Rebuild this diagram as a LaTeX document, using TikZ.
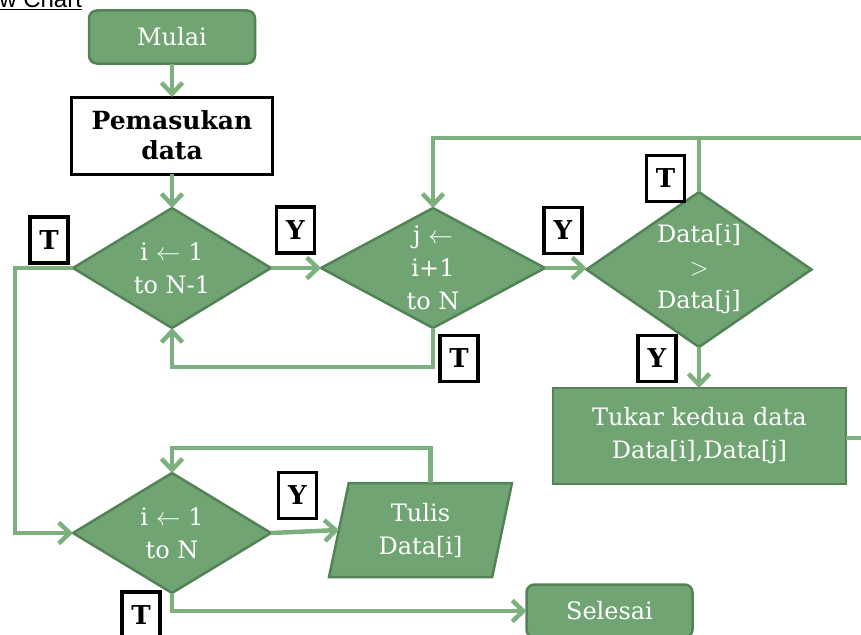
\documentclass[tikz,border=0pt]{standalone}
\usepackage{fontspec}
\setmainfont{DejaVu Serif}
\newfontfamily\titlefont{Liberation Sans}
\usetikzlibrary{shapes.geometric,arrows.meta}
\definecolor{boxfill}{RGB}{112,165,115}
\definecolor{boxline}{RGB}{82,130,86}
\definecolor{conncol}{RGB}{124,176,127}
\tikzset{
  every node/.style={inner sep=0pt, outer sep=0pt},
  wtext/.style={text=white, font=\fontsize{24}{33}\selectfont, align=center},
  greenbox/.style={wtext, fill=boxfill, draw=boxline, line width=2.5pt},
  term/.style={greenbox, rounded corners=8pt, minimum width=166pt, minimum height=53pt},
  dec/.style={greenbox, diamond},
  proc/.style={greenbox, rectangle, minimum width=293pt, minimum height=96pt},
  iobox/.style={greenbox, trapezium, trapezium left angle=70, trapezium right angle=110,
     trapezium stretches body, minimum width=183pt, minimum height=94pt},
  conn/.style={draw=conncol, line width=4.5pt},
  arr/.style={conn, -{Straight Barb[length=11pt,width=21pt]}},
  lab/.style={draw=black, fill=white, line width=3.5pt, minimum width=38pt, minimum height=46pt,
     font=\fontsize{26}{26}\bfseries\selectfont},
}
\begin{document}
\begin{tikzpicture}[x=1pt,y=-1pt]
\useasboundingbox (0,0) rectangle (861,634);
\clip (0,0) rectangle (861,634);
% title (cut off at the top-left, as in the reference)
\node[anchor=base east, font=\titlefont\fontsize{24}{24}\selectfont] (title) at (82,7.5) {\underline{Flow Chart}};
% nodes
\node[term] (mulai) at (172,37) {Mulai};
\node[draw=black, fill=white, line width=3pt, minimum width=201pt, minimum height=77pt,
      align=center, font=\fontsize{25}{30}\bfseries\selectfont] (input) at (172,135.5) {Pemasukan\\data};
\node[dec, aspect=1.65, minimum width=198pt, minimum height=120pt] (d1) at (172,268) {i $\leftarrow$ 1\\to N-1};
\node[dec, aspect=1.87, minimum width=224pt, minimum height=120pt] (d2) at (433,268) {j $\leftarrow$\\i+1\\to N};
\node[dec, aspect=1.45, minimum width=225pt, minimum height=155pt] (d3) at (699,269.5) {Data[i]\\$>$\\Data[j]};
\node[proc] (tukar) at (699.5,436) {Tukar kedua data\\Data[i],Data[j]};
\node[dec, aspect=1.65, minimum width=198pt, minimum height=120pt] (d4) at (172,533) {i $\leftarrow$ 1\\to N};
\node[iobox] (tulis) at (420.5,530) {Tulis\\Data[i]};
\node[term] (selesai) at (609.5,611) {Selesai};
% free ends and bends
\coordinate (c1) at (433,367);
\coordinate (edge1) at (875,138);
\coordinate (edge2) at (875,438);
\coordinate (c4) at (15,268);
\coordinate (c5) at (300,448);
% connectors
\draw[arr] (mulai.south) -- (input.north);
\draw[arr] (input.south) -- (d1.north);
\draw[arr] (d1.east) -- (d2.west);
\draw[arr] (d2.east) -- (d2.east -| d3.west);
\draw[arr] (d3.south) -- (d3.south |- tukar.north);
\draw[arr] (d2.south) -- (c1) -| (d1.south);
\draw[arr] (edge1) -| (d2.north);
\draw[conn] (d3.north) -- (d3.north |- edge1);
\draw[conn] (tukar.east |- edge2) -- (edge2);
\draw[arr] (d1.west) -- (c4) |- (d4.west);
\draw[arr] (d4.east) -- (tulis.left side);
\draw[arr] (tulis.top side) |- (c5) -| (d4.north);
\draw[arr] (d4.south) |- (selesai.west);
% labels
\node[lab] (t1) at (49,240) {T};
\node[lab] (y1) at (295.5,230) {Y};
\node[lab] (y2) at (563,230.5) {Y};
\node[lab] (t3) at (665.5,178.5) {T};
\node[lab] (t2) at (459,358.5) {T};
\node[lab] (y3) at (657,358.5) {Y};
\node[lab] (y4) at (297.5,495.5) {Y};
\node[lab] (t4) at (141,615) {T};
\end{tikzpicture}
\end{document}
